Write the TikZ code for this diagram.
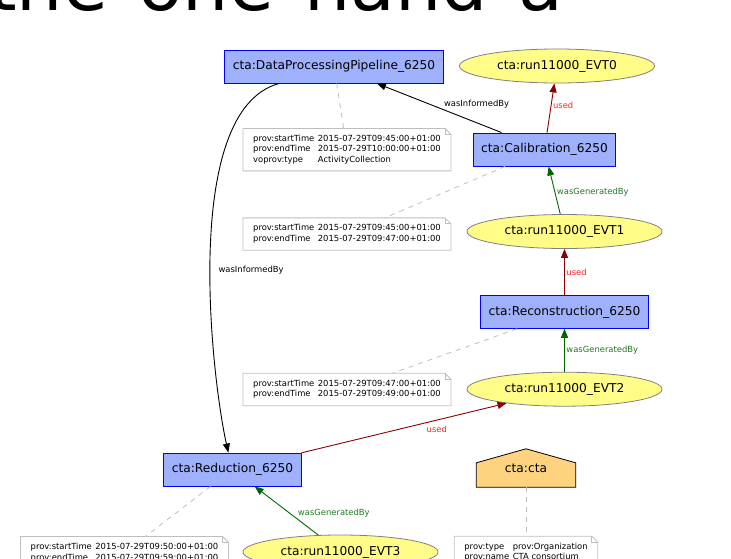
\documentclass[tikz,border=0pt]{standalone}
\usepackage{fontspec}
\setmainfont{DejaVu Sans}
\usetikzlibrary{shapes.geometric, arrows.meta, positioning, calc, backgrounds}

\definecolor{actfill}{HTML}{9FB1FC}
\definecolor{entfill}{HTML}{FFFC87}
\definecolor{agfill}{HTML}{FED37F}
\definecolor{usedred}{HTML}{8B0000}
\definecolor{usedlabel}{HTML}{FF2020}
\definecolor{gengreen}{HTML}{006400}
\definecolor{genlabel}{HTML}{1E7A1E}
\definecolor{notegray}{HTML}{BEBEBE}

% two-column key/value table inside a note
\newcommand{\provtable}[1]{\begin{tabular}{@{}l@{\hspace{3.5pt}}l@{}}#1\end{tabular}}
% outline of a note with the folded corner
\newcommand{\notecorner}[1]{%
  \draw[notegray, line width=0.8pt] (#1.north west) -- ($(#1.north east)+(-6pt,0pt)$) -- ($(#1.north east)+(0pt,-6pt)$) -- (#1.south east) -- (#1.south west) -- cycle;
  \draw[notegray, line width=0.8pt] ($(#1.north east)+(-6pt,0pt)$) -- ($(#1.north east)+(-6pt,-6pt)$) -- ($(#1.north east)+(0pt,-6pt)$);
}

\begin{document}
\begin{tikzpicture}[
    x=1pt, y=-1pt,
    >={Triangle[length=9pt, width=7pt]},
    activity/.style={rectangle, draw=blue, fill=actfill, line width=0.9pt, inner xsep=8pt, minimum height=33pt, font=\fontsize{12.2}{14}\selectfont},
    entity/.style={ellipse, draw=gray, fill=entfill, line width=0.8pt, minimum width=195pt, minimum height=34pt, inner sep=0pt, font=\fontsize{12.2}{14}\selectfont},
    agent/.style={rectangle, minimum width=99pt, minimum height=38pt, inner sep=0pt, font=\fontsize{12.2}{14}\selectfont},
    note/.style={rectangle, inner xsep=10pt, inner ysep=4pt, minimum height=32pt, font=\fontsize{8.4}{10.5}\selectfont},
    elabel/.style={inner sep=1.5pt, font=\fontsize{8.4}{10}\selectfont},
    informedge/.style={->, black, line width=0.9pt},
    usededge/.style={->, usedred, line width=0.9pt},
    genedge/.style={->, gengreen, line width=0.9pt},
    annedge/.style={notegray, line width=0.8pt, dash pattern=on 5pt off 5pt}
]
\useasboundingbox (0,0) rectangle (731,558);
\clip (0,0) rectangle (731,558);

% Slide text above the figure
\node[anchor=base west, inner sep=0pt, font=\fontsize{73}{80}\selectfont] (slidetext) at (-12,10.5) {\makebox[575pt][s]{the one hand a}};

% Activities
\node[activity] (pipe) at (334,66.5) {cta:DataProcessingPipeline\_6250};
\node[activity] (calib) at (544.5,149.5) {cta:Calibration\_6250};
\node[entity] (evt1) at (564.5,231.5) {cta:run11000\_EVT1};
\node[activity, below=46pt of evt1] (recon) {cta:Reconstruction\_6250};
\node[entity, below=43pt of recon] (evt2) {cta:run11000\_EVT2};
\node[activity] (reduct) at (232.5,469.5) {cta:Reduction\_6250};

% Entities
\node[entity] (evt0) at (557,66) {cta:run11000\_EVT0};
\node[entity] (evt3) at (340.5,552) {cta:run11000\_EVT3};

% Agent
\node[agent] (cta) at (526,468) {cta:cta};
\begin{scope}[on background layer]
\draw[fill=agfill, line width=0.8pt] (cta.south west) -- (cta.south east) -- ($(cta.north east)+(0pt,-14pt)$) -- (cta.north) -- ($(cta.north west)+(0pt,-14pt)$) -- cycle;
\end{scope}

% Notes
\node[note, minimum height=42pt, below=45pt of pipe, xshift=13pt] (notepipe) {\provtable{prov:startTime & 2015-07-29T09:45:00+01:00\\ prov:endTime & 2015-07-29T10:00:00+01:00\\ voprov:type & ActivityCollection}};
\node[note, below=47pt of notepipe] (notecalib) {\provtable{prov:startTime & 2015-07-29T09:45:00+01:00\\ prov:endTime & 2015-07-29T09:47:00+01:00}};
\node[note, below=123pt of notecalib] (noterecon) {\provtable{prov:startTime & 2015-07-29T09:47:00+01:00\\ prov:endTime & 2015-07-29T09:49:00+01:00}};
\node[note, below=50pt of reduct, xshift=-108pt] (notereduct) {\provtable{prov:startTime & 2015-07-29T09:50:00+01:00\\ prov:endTime & 2015-07-29T09:59:00+01:00}};
\node[note, below=49pt of cta] (notecta) {\provtable{prov:type & prov:Organization\\ prov:name & CTA consortium}};
\notecorner{notepipe}
\notecorner{notecalib}
\notecorner{noterecon}
\notecorner{notereduct}
\notecorner{notecta}

% Relations
\draw[informedge] (calib) -- node[elabel, pos=0.2, yshift=19pt] {wasInformedBy} (pipe);
\draw[usededge] (calib) -- node[elabel, pos=0.56, right, usedlabel] {used} (evt0);
\draw[genedge] (evt1) -- node[elabel, pos=0.45, right, genlabel] {wasGeneratedBy} (calib);
\draw[usededge] (recon) -- node[elabel, right, usedlabel] {used} (evt1);
\draw[genedge] (evt2) -- node[elabel, right, genlabel] {wasGeneratedBy} (recon);
\draw[usededge] (reduct) -- node[elabel, pos=0.66, below=4pt, usedlabel] {used} (evt2);
\draw[genedge] (evt3) -- node[elabel, pos=0.46, right=7pt, genlabel] {wasGeneratedBy} (reduct);
\draw[informedge] ($(pipe.south west)!0.25!(pipe.south east)$) .. controls (180,110) and (212,380) .. node[elabel, pos=0.54, right=6.5pt] {wasInformedBy} ($(reduct.north west)!0.47!(reduct.north east)$);

% Annotations
\draw[annedge] (pipe) -- (notepipe);
\draw[annedge] (calib) -- (notecalib);
\draw[annedge] (recon) -- (noterecon);
\draw[annedge] (reduct) -- (notereduct);
\draw[annedge] (cta) -- (notecta);

\end{tikzpicture}
\end{document}
